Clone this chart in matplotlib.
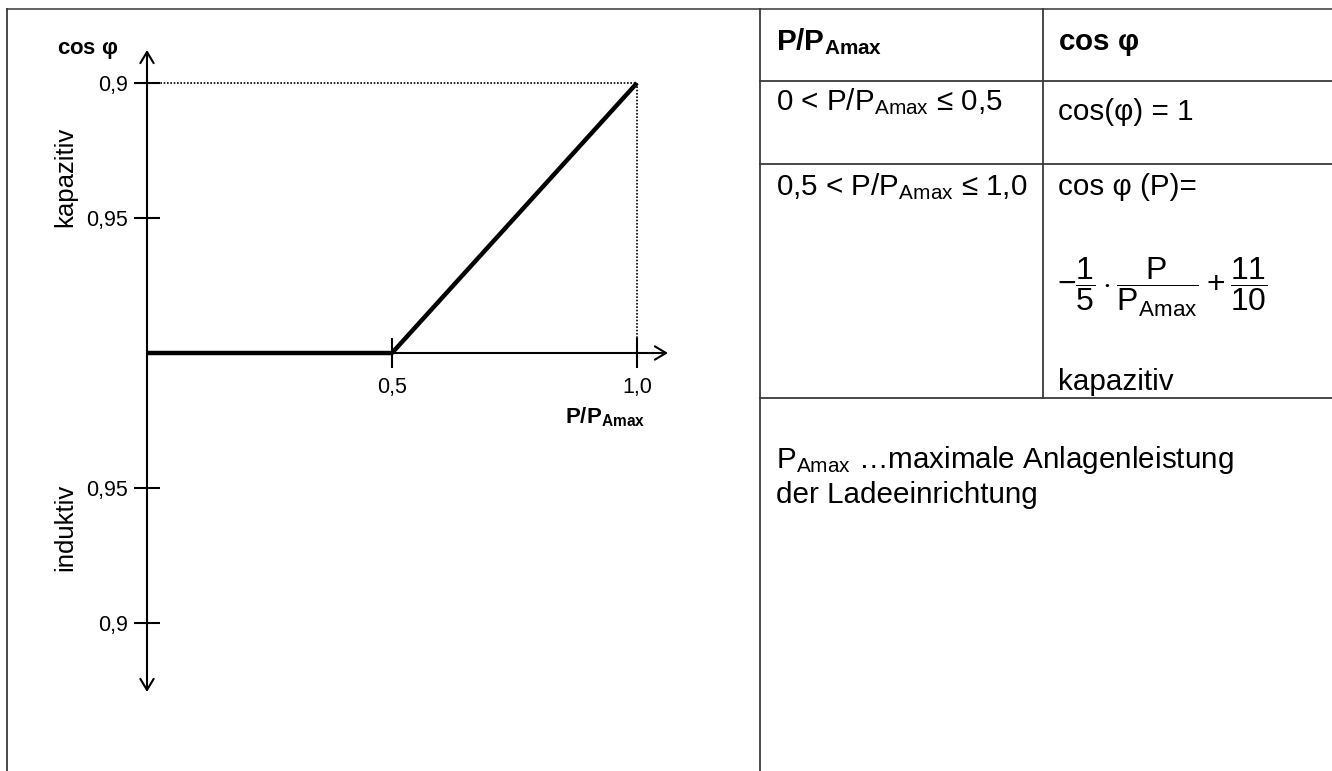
import matplotlib
matplotlib.use("Agg")
import matplotlib.pyplot as plt

plt.rcParams['font.family'] = ['Liberation Sans', 'DejaVu Sans']
plt.rcParams['mathtext.fontset'] = 'custom'
plt.rcParams['mathtext.rm'] = 'Liberation Sans'
plt.rcParams['mathtext.it'] = 'Liberation Sans:italic'
plt.rcParams['mathtext.bf'] = 'Liberation Sans:bold'
plt.rcParams['mathtext.sf'] = 'Liberation Sans'

# Kennlinie cos phi (P)
p_ratio = [0.0, 0.5, 1.0]
cos_phi = [1.0, 1.0, 0.9]
# +1 = kapazitiv (oben), -1 = induktiv (unten)
side = [1, 1, 1]

y_tick_vals = [0.9, 0.95, 0.95, 0.9]
y_tick_side = [1, 1, -1, -1]
y_tick_labels = ['0,9', '0,95', '0,95', '0,9']
x_tick_vals = [0.5, 1.0]
x_tick_labels = ['0,5', '1,0']

# Tabelle
table_header = [r'$\mathbf{P/P_{Amax}}$', r'$\mathbf{cos}$ $\mathbf{\varphi}$']
row_ranges = [r'0 < P/P$_{\mathrm{Amax}}$ ≤ 0,5', r'0,5 < P/P$_{\mathrm{Amax}}$ ≤ 1,0']
row_rules = ['cos(φ) = 1', 'cos φ (P)=']
formula = (r'$-\dfrac{1}{5}\cdot\dfrac{\mathrm{P}}{\mathrm{P}_{\mathrm{Amax}}}'
           r'+\dfrac{11}{10}$')
note_lines = [r'P$_{\mathrm{Amax}}$ …maximale Anlagenleistung', 'der Ladeeinrichtung']

W, H = 1332, 771
fig = plt.figure(figsize=(W / 100, H / 100), dpi=100)

# Hintergrund-Achse in Pixelkoordinaten für Rahmen und Tabelle
bg = fig.add_axes([0, 0, 1, 1])
bg.set_xlim(0, W)
bg.set_ylim(H, 0)
bg.axis('off')

lc = '#3a3a3a'
bg.plot([7, W], [9, 9], color='#555555', lw=1.3)
bg.plot([7, 7], [9, H], color=lc, lw=1.3)
bg.plot([760, 760], [9, H], color=lc, lw=1.3)
bg.plot([1043, 1043], [9, 398], color=lc, lw=1.3)
for yy in [81, 164, 398]:
    bg.plot([760, W], [yy, yy], color=lc, lw=1.3)

fs = 21.3
bg.text(776, 50, table_header[0], fontsize=fs, va='baseline')
bg.text(1058, 50, table_header[1], fontsize=fs, va='baseline')
bg.text(776, 110, row_ranges[0], fontsize=fs, va='baseline')
bg.text(1058, 120, row_rules[0], fontsize=fs, va='baseline')
bg.text(776, 195, row_ranges[1], fontsize=fs, va='baseline')
bg.text(1058, 195, row_rules[1], fontsize=fs, va='baseline')
bg.text(1057, 287, formula, fontsize=23, va='center')
bg.text(1058, 390, 'kapazitiv', fontsize=fs, va='baseline')
bg.text(776, 468, note_lines[0], fontsize=fs, va='baseline')
bg.text(776, 503, note_lines[1], fontsize=fs, va='baseline')

# Diagramm: x 0 -> 147 px, 1 -> 637 px; y 0 -> 353 px, 0.1 -> 83 px
px_x, px_y = 490.0, 2700.0
x0, y0 = 147, 353
ax_w = 735
ax = fig.add_axes([0, 0, ax_w / W, 1])
ax.patch.set_alpha(0)
ax.set_xlim(-x0 / px_x, (ax_w - x0) / px_x)
ax.set_ylim((y0 - H) / px_y, y0 / px_y)
for s in ax.spines.values():
    s.set_visible(False)
ax.spines['left'].set_position(('data', 0))
ax.spines['bottom'].set_position(('data', 0))

q = [s * (1 - c) for s, c in zip(side, cos_phi)]
ax.plot(p_ratio, q, color='black', lw=3.2, solid_capstyle='butt', zorder=3)
ax.plot([0, p_ratio[-1], p_ratio[-1]], [q[-1], q[-1], 0], color='black',
        lw=1.2, ls=(0, (1.0, 1.0)), zorder=2)

arrow = dict(arrowstyle='->,head_length=0.5,head_width=0.3', color='black',
             lw=1.5, mutation_scale=16, shrinkA=0, shrinkB=0)
y_top = (y0 - 50) / px_y
y_bot = (y0 - 692) / px_y
ax.annotate('', xy=(0, y_top), xytext=(0, 0), arrowprops=arrow)
ax.annotate('', xy=(0, y_bot), xytext=(0, 0), arrowprops=arrow)
ax.annotate('', xy=((668 - x0) / px_x, 0), xytext=(0, 0), arrowprops=arrow)

ax.set_yticks([s * (1 - v) for s, v in zip(y_tick_side, y_tick_vals)])
ax.set_yticklabels(y_tick_labels)
ax.set_xticks(x_tick_vals)
ax.set_xticklabels(x_tick_labels)
ax.tick_params(axis='y', direction='inout', length=19, width=1.5, pad=4,
               labelsize=15.5)
ax.tick_params(axis='x', direction='inout', length=22, width=1.5, pad=6,
               labelsize=15.5)

bg.text(88, 50, r'$\mathbf{cos}$ $\mathbf{\varphi}$', fontsize=16, ha='center', va='center')
bg.text(605, 417, r'$\mathbf{P/P_{Amax}}$', fontsize=16, ha='center', va='center')
bg.text(65, 177, 'kapazitiv', fontsize=18.5, rotation=90, ha='center', va='center')
bg.text(65, 527, 'induktiv', fontsize=18.5, rotation=90, ha='center', va='center')

fig.savefig('out.png', dpi=100)
